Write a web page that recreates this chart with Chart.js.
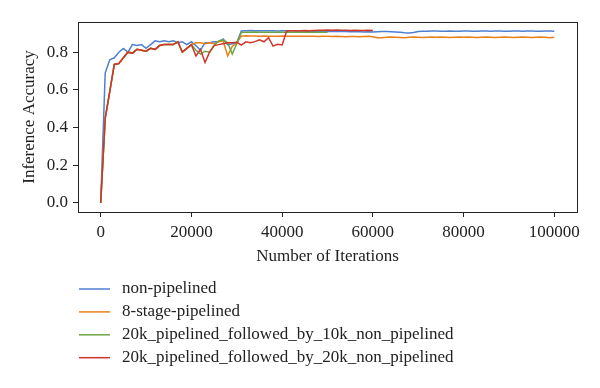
<!DOCTYPE html>
<html>
<head>
<meta charset="utf-8">
<script src="https://cdn.jsdelivr.net/npm/chart.js@4/dist/chart.umd.min.js"></script>
<style>
html,body{margin:0;padding:0;background:#fff;}
#wrap{width:600px;height:388px;position:relative;}
</style>
</head>
<body>
<div id="wrap"><canvas id="c" width="600" height="388"></canvas></div>
<script>
// ---- data ----
const iterations = [0,1000,2000,3000,4000,5000,6000,7000,8000,9000,10000,11000,12000,13000,14000,15000,16000,17000,18000,19000,20000,
21000,22000,23000,24000,25000,26000,27000,28000,29000,30000,31000,32000,33000,34000,35000,36000,37000,38000,39000,40000,
41000,42000,43000,44000,45000,46000,47000,48000,49000,50000,51000,52000,53000,54000,55000,56000,57000,58000,59000,60000,
61000,62000,63000,64000,65000,66000,67000,68000,69000,70000,71000,72000,73000,74000,75000,76000,77000,78000,79000,80000,
81000,82000,83000,84000,85000,86000,87000,88000,89000,90000,91000,92000,93000,94000,95000,96000,97000,98000,99000,100000];

const seriesNames = ["non-pipelined","8-stage-pipelined","20k_pipelined_followed_by_10k_non_pipelined","20k_pipelined_followed_by_20k_non_pipelined"];

const nonPipelined = [0,0.69,0.76,0.77,0.80,0.82,0.80,0.84,0.835,0.84,0.82,0.84,0.86,0.855,0.86,0.855,0.86,0.85,0.855,0.84,0.855,
0.835,0.81,0.85,0.85,0.855,0.855,0.87,0.84,0.845,0.85,0.912,0.914,0.915,0.914,0.914,0.913,0.914,0.913,0.912,0.913,
0.914,0.913,0.912,0.913,0.912,0.911,0.912,0.911,0.910,0.910,0.910,0.909,0.910,0.909,0.908,0.909,0.908,0.907,0.908,0.907,
0.908,0.909,0.909,0.908,0.907,0.905,0.903,0.902,0.904,0.909,0.911,0.911,0.912,0.912,0.911,0.911,0.912,0.911,0.911,0.912,
0.912,0.911,0.911,0.912,0.912,0.911,0.912,0.912,0.911,0.911,0.912,0.912,0.911,0.912,0.912,0.911,0.911,0.912,0.912,0.911];

const stage8Pipelined = [0,0.45,0.59,0.735,0.74,0.77,0.80,0.795,0.815,0.81,0.805,0.82,0.815,0.835,0.84,0.84,0.84,0.855,0.80,0.82,0.84,
0.85,0.85,0.845,0.85,0.845,0.855,0.86,0.78,0.83,0.85,0.885,0.887,0.886,0.886,0.885,0.886,0.885,0.884,0.885,0.886,
0.885,0.884,0.885,0.885,0.884,0.885,0.884,0.883,0.884,0.884,0.883,0.884,0.883,0.882,0.883,0.883,0.882,0.883,0.884,0.882,
0.876,0.877,0.879,0.880,0.879,0.878,0.877,0.879,0.880,0.879,0.878,0.879,0.880,0.879,0.880,0.879,0.878,0.879,0.880,0.879,
0.880,0.879,0.878,0.879,0.880,0.879,0.878,0.879,0.880,0.879,0.878,0.879,0.880,0.879,0.878,0.879,0.880,0.879,0.877,0.879];

const p20kNp10k = [0,0.45,0.59,0.735,0.74,0.77,0.80,0.795,0.815,0.81,0.805,0.82,0.815,0.835,0.84,0.84,0.84,0.855,0.80,0.82,0.84,
0.81,0.79,0.805,0.80,0.835,0.86,0.865,0.85,0.79,0.845,0.905,0.906,0.906,0.907,0.906,0.906,0.905,0.906,0.906,0.905,
0.906,0.906,0.905,0.906,0.905,0.905,0.906,0.905,0.905,0.905];

const p20kNp20k = [0,0.45,0.59,0.735,0.74,0.77,0.80,0.795,0.815,0.81,0.805,0.82,0.815,0.835,0.84,0.84,0.84,0.855,0.80,0.82,0.84,
0.78,0.815,0.745,0.80,0.835,0.84,0.845,0.85,0.85,0.852,0.838,0.855,0.85,0.856,0.866,0.855,0.877,0.832,0.842,0.838,
0.912,0.913,0.914,0.914,0.915,0.914,0.915,0.916,0.916,0.917,0.916,0.917,0.916,0.916,0.915,0.916,0.915,0.915,0.916,0.915];

const xTicks = [0,20000,40000,60000,80000,100000];
const yTicks = [0.0,0.2,0.4,0.6,0.8];

const colors = ["#4f7fd0","#e8801a","#6aa646","#d0352a"];

// ---- build ----
function pts(vals){ return vals.map((v,i)=>({x:iterations[i], y:v})); }
const allSeries = [nonPipelined, stage8Pipelined, p20kNp10k, p20kNp20k];
const datasets = allSeries.map((s,i)=>({
  label: seriesNames[i],
  data: pts(s),
  borderColor: colors[i],
  backgroundColor: colors[i],
  borderWidth: 1.5,
  pointRadius: 0,
  tension: 0,
  fill: false,
  order: allSeries.length - 1 - i
}));

const FONT = "'Liberation Serif', 'DejaVu Serif', serif";

const framePlugin = {
  id: 'frame',
  afterDraw(chart){
    const {ctx, chartArea:a} = chart;
    ctx.save();
    ctx.strokeStyle = '#222';
    ctx.lineWidth = 1;
    ctx.strokeRect(Math.round(a.left)+0.5, Math.round(a.top)+0.5, Math.round(a.right-a.left), Math.round(a.bottom-a.top));
    // legend
    ctx.font = "17px " + FONT;
    ctx.textBaseline = 'middle';
    chart.data.datasets.forEach((ds,i)=>{
      const y = 289 + i*22.9;
      ctx.strokeStyle = ds.borderColor;
      ctx.lineWidth = 1.5;
      ctx.beginPath();
      ctx.moveTo(79, y); ctx.lineTo(110, y);
      ctx.stroke();
      ctx.fillStyle = '#222';
      ctx.fillText(ds.label, 122, y);
    });
    ctx.restore();
  }
};

new Chart(document.getElementById('c'), {
  type: 'line',
  data: { datasets },
  options: {
    responsive: false,
    animation: false,
    devicePixelRatio: 1,
    layout: { padding: { left: 0, top: 22, right: 23, bottom: 116 } },
    plugins: { legend: { display: false }, tooltip: { enabled: false } },
    scales: {
      x: {
        type: 'linear',
        min: -5000, max: 105000,
        afterBuildTicks: s => { s.ticks = xTicks.map(v=>({value:v})); },
        afterFit: s => { s.height = 60; },
        grid: { display: true, drawOnChartArea: false, drawTicks: true, tickLength: 5, color: '#222' },
        border: { display: true, color: '#222' },
        ticks: { color: '#222', font: { family: FONT, size: 17 }, padding: 5, maxRotation: 0,
                 callback: v => String(v) },
        title: { display: true, text: 'Number of Iterations', color: '#222', font: { family: FONT, size: 17 }, padding: { top: 0, bottom: 5 } }
      },
      y: {
        type: 'linear',
        min: -0.048, max: 0.96,
        afterBuildTicks: s => { s.ticks = yTicks.map(v=>({value:v})); },
        afterFit: s => { s.width = 78; },
        grid: { display: true, drawOnChartArea: false, drawTicks: true, tickLength: 5, color: '#222' },
        border: { display: true, color: '#222' },
        ticks: { color: '#222', font: { family: FONT, size: 17 }, padding: 5, callback: v => v.toFixed(1) },
        title: { display: true, text: 'Inference Accuracy', color: '#222', font: { family: FONT, size: 17 }, padding: { top: 19, bottom: 0 } }
      }
    }
  },
  plugins: [framePlugin]
});
</script>
</body>
</html>
